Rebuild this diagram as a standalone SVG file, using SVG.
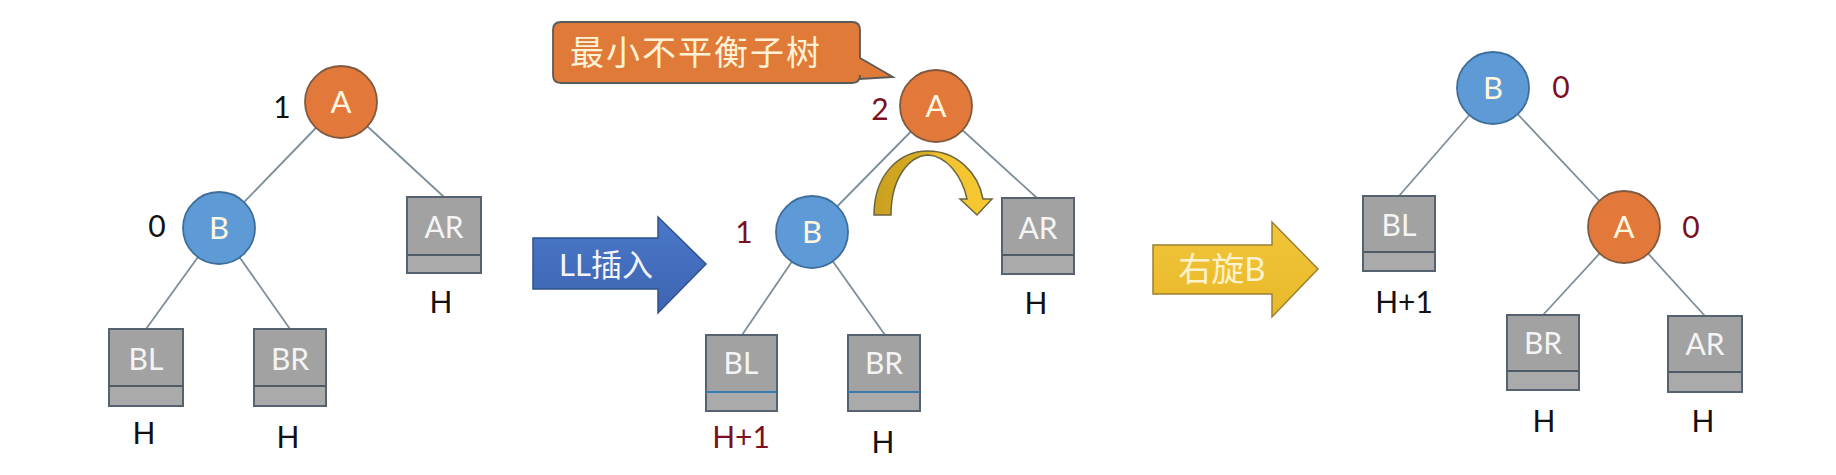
<svg xmlns="http://www.w3.org/2000/svg" width="1836" height="475" viewBox="0 0 1836 475">
<defs>
<style>
.bg{fill:#ffffff}
.edge{stroke:#7d8f9b;stroke-width:1.8;fill:none}
.cOr{fill:#e2793a;stroke:#7f5a40;stroke-width:1.8}
.cBl{fill:#5e9bd6;stroke:#3e6e9a;stroke-width:1.8}
.box{fill:#a2a2a2;stroke:#566270;stroke-width:2}
.strip{fill:#aaaaaa}
.div{stroke:#4f5b66;stroke-width:2}
.divB{stroke:#3a7bb0;stroke-width:2}
.nt{font-family:Lato,"Liberation Sans",sans-serif;font-size:31px;fill:#fff6e0;text-anchor:middle}
.bt{font-family:Lato,"Liberation Sans",sans-serif;font-size:30px;fill:#f4f4f4;text-anchor:middle}
.lb{font-family:Lato,"Liberation Sans",sans-serif;font-size:30px;fill:#111111;text-anchor:middle}
.red{fill:#7a1020}
.cjk{font-family:Lato,"Noto Sans CJK SC",sans-serif;text-anchor:middle}
</style>
<linearGradient id="gBlue" x1="0" y1="0" x2="0" y2="1">
<stop offset="0" stop-color="#4a78c8"/>
<stop offset="1" stop-color="#3d64b2"/>
</linearGradient>
<linearGradient id="gYel" x1="0" y1="0" x2="0" y2="1">
<stop offset="0" stop-color="#f2c53a"/>
<stop offset="1" stop-color="#e8b828"/>
</linearGradient>
<linearGradient id="gCurve" x1="0" y1="0" x2="1" y2="0">
<stop offset="0" stop-color="#c9a020"/>
<stop offset="0.45" stop-color="#d9ae22"/>
<stop offset="0.55" stop-color="#f2c530"/>
<stop offset="1" stop-color="#f5c832"/>
</linearGradient>
</defs>
<rect class="bg" x="0" y="0" width="1836" height="475"/>

<g id="connectors">
<line class="edge" x1="341" y1="102" x2="219" y2="228"/>
<line class="edge" x1="341" y1="102" x2="444" y2="197"/>
<line class="edge" x1="219" y1="228" x2="146" y2="329"/>
<line class="edge" x1="219" y1="228" x2="290" y2="329"/>
<line class="edge" x1="936" y1="106" x2="812" y2="232"/>
<line class="edge" x1="936" y1="106" x2="1037" y2="198"/>
<line class="edge" x1="812" y1="232" x2="742" y2="335"/>
<line class="edge" x1="812" y1="232" x2="885" y2="335"/>
<line class="edge" x1="1493" y1="88" x2="1399" y2="196"/>
<line class="edge" x1="1493" y1="88" x2="1624" y2="227"/>
<line class="edge" x1="1624" y1="227" x2="1543" y2="315"/>
<line class="edge" x1="1624" y1="227" x2="1705" y2="316"/>
</g>

<!-- Tree 1 -->
<g id="t1-A">
<circle class="cOr" cx="341" cy="102" r="36"/>
<text class="nt" x="341" y="113">A</text>
<text class="lb" x="282" y="118">1</text>
</g>
<g id="t1-B">
<circle class="cBl" cx="219" cy="228" r="36"/>
<text class="nt" x="219" y="239">B</text>
<text class="lb" x="157" y="237">0</text>
</g>
<g id="t1-AR">
<rect class="box" x="407" y="197" width="74" height="76"/>
<rect class="strip" x="408" y="255" width="72" height="17"/>
<line class="div" x1="407" y1="255" x2="481" y2="255"/>
<text class="bt" x="444" y="238">AR</text>
<text class="lb" x="441" y="313">H</text>
</g>
<g id="t1-BL">
<rect class="box" x="109" y="329" width="74" height="77"/>
<rect class="strip" x="110" y="386" width="72" height="19"/>
<line class="div" x1="109" y1="386" x2="183" y2="386"/>
<text class="bt" x="146" y="370">BL</text>
<text class="lb" x="144" y="444">H</text>
</g>
<g id="t1-BR">
<rect class="box" x="254" y="329" width="72" height="77"/>
<rect class="strip" x="255" y="386" width="70" height="19"/>
<line class="div" x1="254" y1="386" x2="326" y2="386"/>
<text class="bt" x="290" y="370">BR</text>
<text class="lb" x="288" y="448">H</text>
</g>

<!-- LL insert arrow -->
<g id="arrow-LL">
<polygon points="533,238 658,238 658,217 706,264 658,313 658,289 533,289" fill="url(#gBlue)" stroke="#2f528f" stroke-width="1.5"/>
<text class="cjk" x="606" y="276" font-size="31" fill="#f2f4fa">LL插入</text>
</g>

<!-- Callout -->
<g id="callout">
<path d="M561,22 H852 Q860,22 860,30 V58 L893,77 L860,79 V75 Q860,83 852,83 H561 Q553,83 553,75 V30 Q553,22 561,22 Z" fill="#e07a38" stroke="#5a5a5a" stroke-width="1.8"/>
<text class="cjk" x="696" y="65" font-size="34" letter-spacing="2" fill="#fff2d6">最小不平衡子树</text>
</g>

<!-- Tree 2 -->
<g id="t2-A">
<circle class="cOr" cx="936" cy="106" r="36"/>
<text class="nt" x="936" y="117">A</text>
<text class="lb red" x="880" y="120">2</text>
</g>
<g id="t2-B">
<circle class="cBl" cx="812" cy="232" r="36"/>
<text class="nt" x="812" y="243">B</text>
<text class="lb red" x="744" y="243">1</text>
</g>
<g id="t2-AR">
<rect class="box" x="1002" y="198" width="72" height="76"/>
<rect class="strip" x="1003" y="255" width="70" height="18"/>
<line class="div" x1="1002" y1="255" x2="1074" y2="255"/>
<text class="bt" x="1038" y="239">AR</text>
<text class="lb" x="1036" y="314">H</text>
</g>
<g id="t2-BL">
<rect class="box" x="706" y="335" width="71" height="76"/>
<rect class="strip" x="707" y="392" width="69" height="18"/>
<line class="divB" x1="706" y1="392" x2="777" y2="392"/>
<text class="bt" x="741" y="374">BL</text>
<text class="lb red" x="741" y="448">H+1</text>
</g>
<g id="t2-BR">
<rect class="box" x="848" y="335" width="72" height="76"/>
<rect class="strip" x="849" y="392" width="70" height="18"/>
<line class="divB" x1="848" y1="392" x2="920" y2="392"/>
<text class="bt" x="884" y="374">BR</text>
<text class="lb" x="883" y="453">H</text>
</g>

<!-- Curved rotation arrow -->
<g id="rotate-arrow">
<path d="M874,215 C874,176 898,151 928,151 C956,151 978,172 983,199 L992,199 L977,215 L960,199 L967,199 C962,176 947,156 928,155 C909,156 891,178 891,215 Z" fill="url(#gCurve)" stroke="#6b6540" stroke-width="1.5"/>
</g>

<!-- Right rotate arrow -->
<g id="arrow-rotB">
<polygon points="1153,245 1272,245 1272,222 1318,269 1272,317 1272,294 1153,294" fill="url(#gYel)" stroke="#9a8030" stroke-width="1.5"/>
<text class="cjk" x="1222" y="281" font-size="33" fill="#fff2cc">右旋B</text>
</g>

<!-- Tree 3 -->
<g id="t3-B">
<circle class="cBl" cx="1493" cy="88" r="36"/>
<text class="nt" x="1493" y="99">B</text>
<text class="lb red" x="1561" y="98">0</text>
</g>
<g id="t3-A">
<circle class="cOr" cx="1624" cy="227" r="36"/>
<text class="nt" x="1624" y="238">A</text>
<text class="lb red" x="1691" y="238">0</text>
</g>
<g id="t3-BL">
<rect class="box" x="1363" y="196" width="72" height="75"/>
<rect class="strip" x="1364" y="252" width="70" height="18"/>
<line class="div" x1="1363" y1="252" x2="1435" y2="252"/>
<text class="bt" x="1399" y="236">BL</text>
<text class="lb" x="1404" y="313">H+1</text>
</g>
<g id="t3-BR">
<rect class="box" x="1507" y="315" width="72" height="75"/>
<rect class="strip" x="1508" y="371" width="70" height="18"/>
<line class="div" x1="1507" y1="371" x2="1579" y2="371"/>
<text class="bt" x="1543" y="354">BR</text>
<text class="lb" x="1544" y="432">H</text>
</g>
<g id="t3-AR">
<rect class="box" x="1668" y="316" width="74" height="76"/>
<rect class="strip" x="1669" y="372" width="72" height="19"/>
<line class="div" x1="1668" y1="372" x2="1742" y2="372"/>
<text class="bt" x="1705" y="355">AR</text>
<text class="lb" x="1703" y="432">H</text>
</g>
</svg>
